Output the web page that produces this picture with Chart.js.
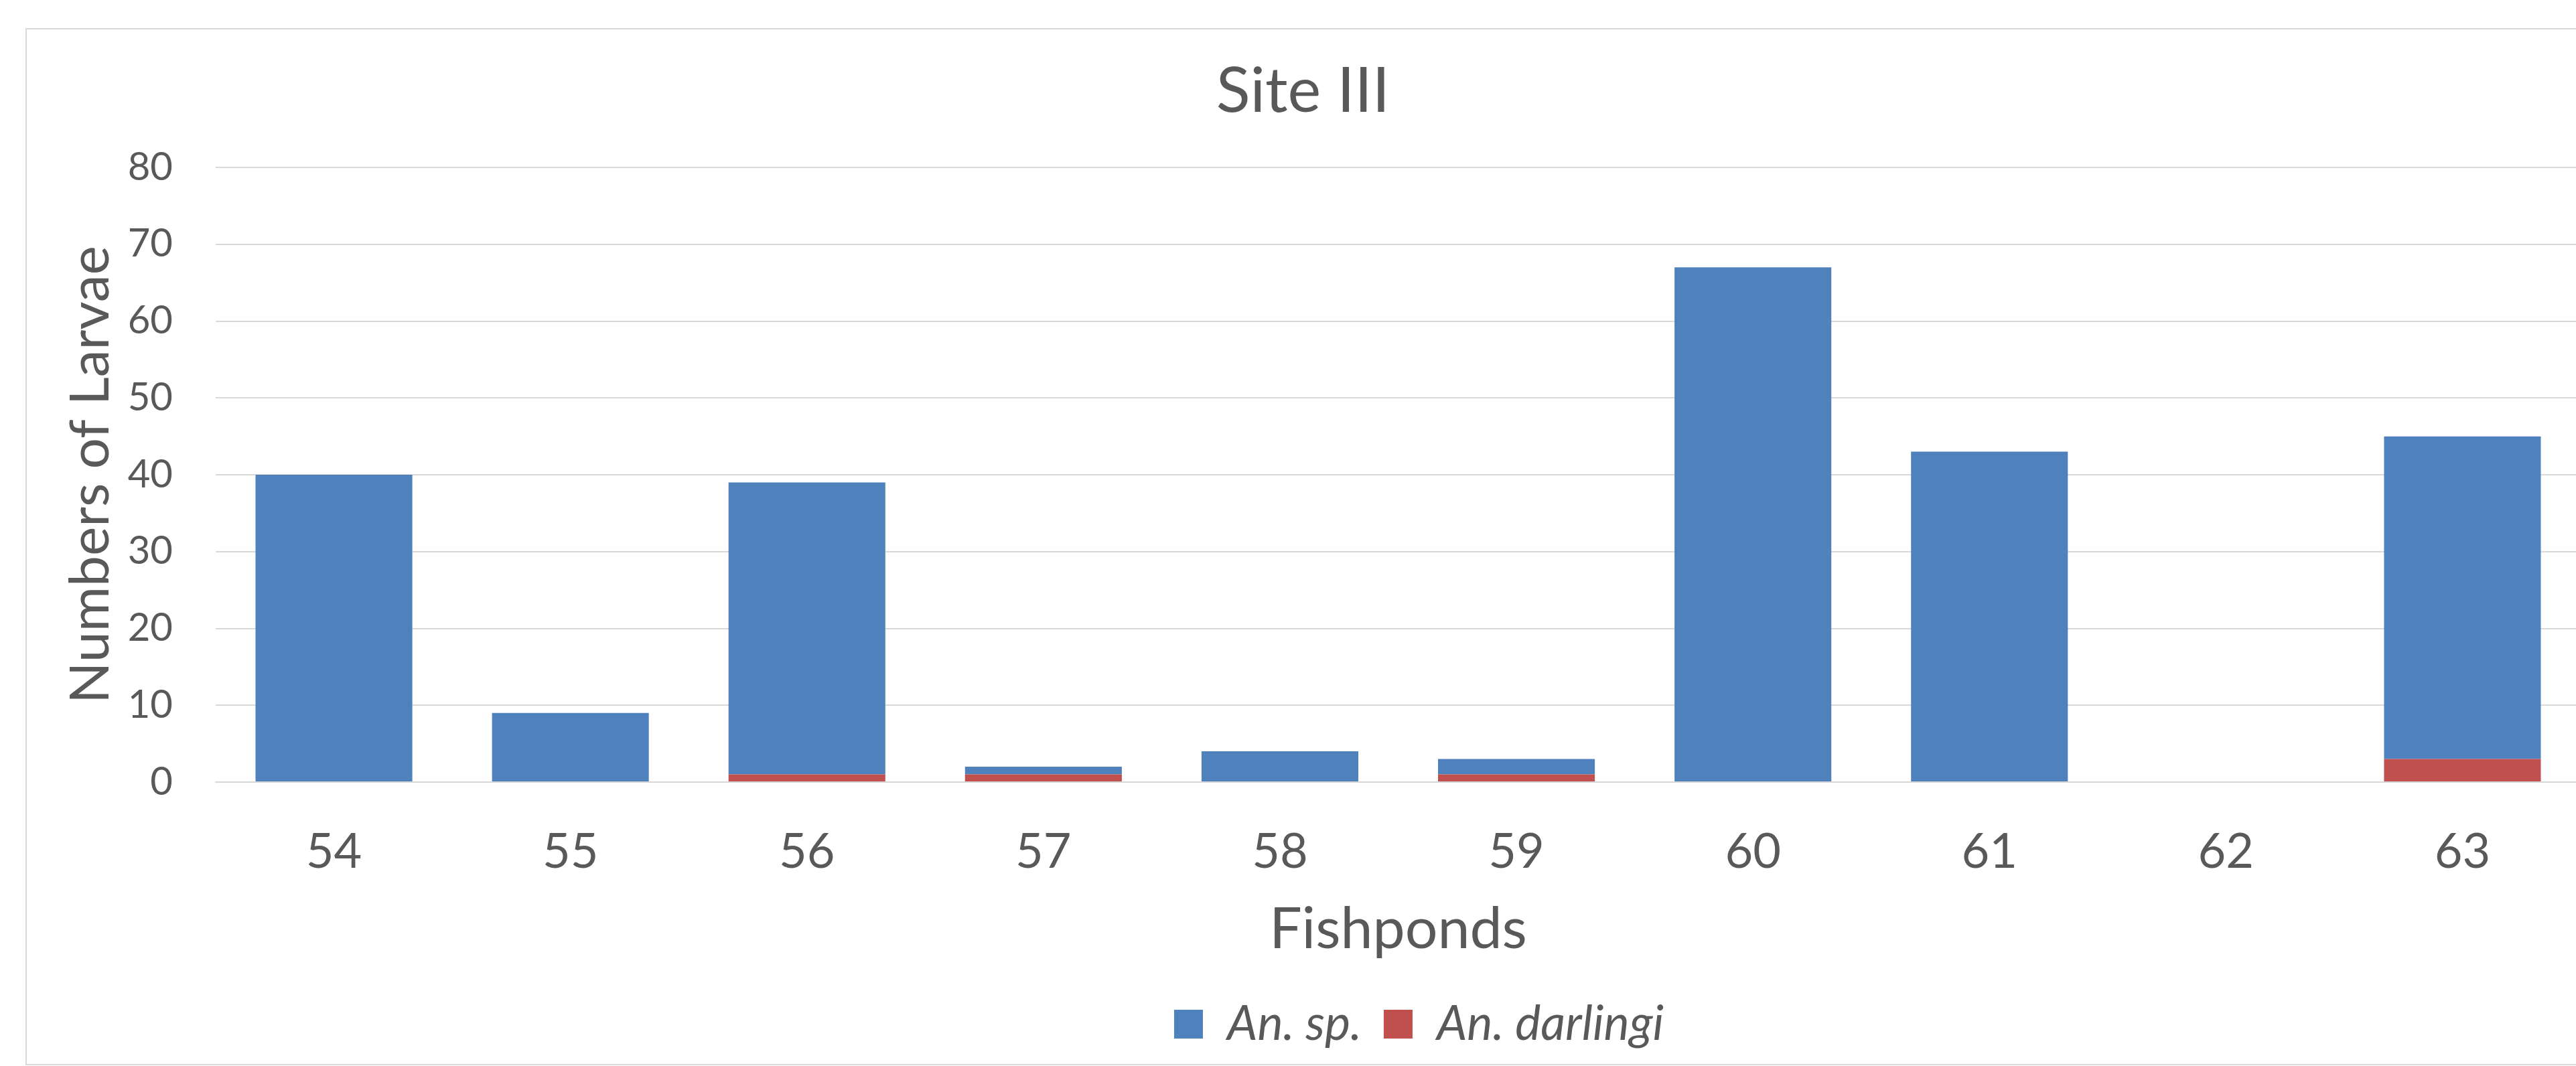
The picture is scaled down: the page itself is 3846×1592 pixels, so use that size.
<!DOCTYPE html>
<html>
<head>
<meta charset="utf-8">
<script src="https://cdn.jsdelivr.net/npm/chart.js@4/dist/chart.umd.min.js"></script>
<style>
  html, body { margin: 0; padding: 0; background: #ffffff; overflow: hidden; width: 3846px; height: 1592px; }
  #frame { position: absolute; left: 38px; top: 42px; width: 3900px; height: 1549px; box-sizing: border-box;
           border-left: 2px solid #D9D9D9; border-top: 2px solid #D9D9D9; border-bottom: 2px solid #D9D9D9; }
  #wrap { position: absolute; left: 38px; top: 42px; width: 3838px; height: 1548px; }
</style>
</head>
<body>
<div id="frame"></div>
<div id="wrap"><canvas id="chart" width="3838" height="1548"></canvas></div>
<script>
// Fishpond numbers (categories)
const ponds = ['54', '55', '56', '57', '58', '59', '60', '61', '62', '63'];
// Larvae counts per species
const anSp = [40, 9, 38, 1, 4, 2, 67, 43, 0, 42];
const anDarlingi = [0, 0, 1, 1, 0, 1, 0, 0, 0, 3];
// Value axis
const yMin = 0;
const yMax = 80;
const yStep = 10;

const FONT = 'Lato, "Open Sans", sans-serif';
const TEXT = '#595959';
const GRID = '#D9D9D9';

// moves the bottom legend sideways so it sits where the layout wants it
const legendOffset = {
  id: 'legendOffset',
  afterLayout(chart) {
    const lg = chart.legend;
    if (!lg) return;
    const dx = 173;
    lg.left += dx;
    lg.right += dx;
  }
};

Chart.defaults.font.family = FONT;
Chart.defaults.color = TEXT;

new Chart(document.getElementById('chart'), {
  type: 'bar',
  data: {
    labels: ponds,
    datasets: [
      { label: 'An. darlingi', data: anDarlingi, backgroundColor: '#C0504D', borderWidth: 0 },
      { label: 'An. sp.', data: anSp, backgroundColor: '#4F81BD', borderWidth: 0 }
    ]
  },
  options: {
    responsive: false,
    devicePixelRatio: 1,
    animation: false,
    events: [],
    barPercentage: 0.663,
    categoryPercentage: 1.0,
    layout: { padding: { left: 0, right: 23, top: 0, bottom: 14.5 } },
    plugins: {
      title: {
        display: true,
        text: 'Site III',
        color: TEXT,
        font: { family: FONT, size: 94, weight: 'normal', lineHeight: 1.2 },
        padding: { top: 38.6, bottom: 56.6 }
      },
      legend: {
        display: true,
        position: 'bottom',
        reverse: true,
        labels: {
          color: TEXT,
          font: { family: FONT, size: 72, style: 'italic', lineHeight: 1.2 },
          boxWidth: 43,
          boxHeight: 43,
          padding: 33
        }
      },
      tooltip: { enabled: false }
    },
    scales: {
      x: {
        stacked: true,
        grid: { display: false, drawTicks: false },
        border: { display: true, color: GRID, width: 2 },
        ticks: { color: TEXT, font: { family: FONT, size: 72 }, padding: 62 },
        title: {
          display: true,
          text: 'Fishponds',
          color: TEXT,
          font: { family: FONT, size: 86, lineHeight: 1.2 },
          padding: { top: 0, bottom: 20.9 }
        },
        afterFit(scale) { scale.height = 292.5; }
      },
      y: {
        stacked: true,
        min: yMin,
        max: yMax,
        grid: { color: GRID, lineWidth: 2, drawTicks: false },
        border: { display: false },
        ticks: { stepSize: yStep, color: TEXT, font: { family: FONT, size: 58 }, padding: 64 },
        title: {
          display: true,
          text: 'Numbers of Larvae',
          color: TEXT,
          font: { family: FONT, size: 82, lineHeight: 1.2 },
          padding: { top: 48, bottom: 0 }
        },
        afterFit(scale) { scale.width = 284; }
      }
    }
  },
  plugins: [legendOffset]
});
</script>
</body>
</html>
